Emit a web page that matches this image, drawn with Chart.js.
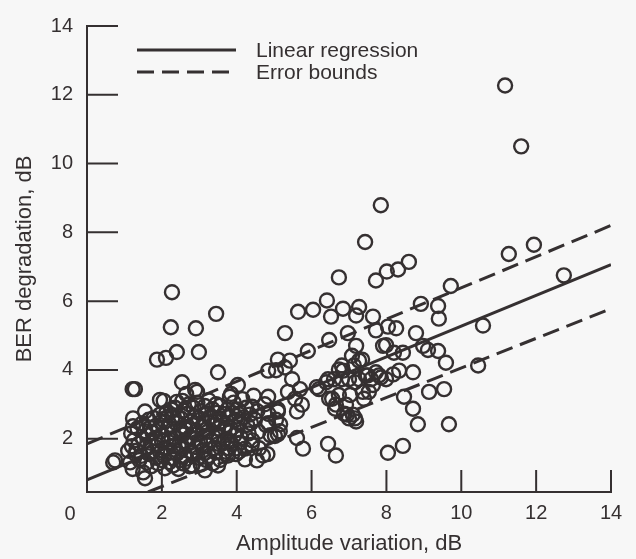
<!DOCTYPE html>
<html>
<head>
<meta charset="utf-8">
<title>BER degradation vs amplitude variation</title>
<script src="https://cdn.jsdelivr.net/npm/chart.js@4.4.1/dist/chart.umd.min.js"></script>
<style>
  html, body { margin: 0; padding: 0; background: #f7f7f7; }
  #wrap { position: relative; width: 636px; height: 559px; }
</style>
</head>
<body>
<div id="wrap"><canvas id="chart"></canvas></div>
<script>
// ── Data ──────────────────────────────────────
const xTicks = [0, 2, 4, 6, 8, 10, 12, 14];
const yTicks = [2, 4, 6, 8, 10, 12, 14];
const legendLabels = ['Linear regression', 'Error bounds'];

const regressionLine = [[0, 0.8], [14, 7.06]];
const upperBound     = [[0, 1.85], [14, 8.2]];
const lowerBound     = [[1.63, 0.45], [14, 5.78]];

// sparse points, upper part
const upperPoints = [
  [11.17, 12.27], [11.6, 10.5], [7.85, 8.79], [7.43, 7.72], [11.27, 7.37], [11.94, 7.64],
  [12.74, 6.75], [9.72, 6.44], [6.73, 6.69], [7.72, 6.6], [8.01, 6.86], [8.31, 6.92],
  [8.6, 7.14], [6.41, 6.02], [5.64, 5.69], [6.04, 5.75]
];

// points right of x = 6
const rightPoints = [
  [6.52, 5.55], [6.84, 5.78], [7.27, 5.83], [7.19, 5.58], [7.64, 5.55], [6.97, 5.07],
  [6.47, 4.87], [7.72, 5.15], [8.04, 5.26], [8.26, 5.21], [7.99, 4.72], [7.19, 4.7],
  [8.79, 5.07], [8.92, 5.92], [9.38, 5.86], [9.4, 5.49], [10.58, 5.29], [8.98, 4.7],
  [9.11, 4.58], [9.38, 4.55], [9.59, 4.21], [10.45, 4.13], [8.71, 3.93], [8.34, 3.98],
  [8.44, 4.5], [8.2, 4.5], [7.91, 4.7], [7.8, 3.84], [7.99, 3.73], [7.59, 3.73],
  [7.72, 3.93], [7.45, 3.84], [7.27, 4.27], [7.13, 4.13], [6.84, 3.98], [6.73, 4.01],
  [7.0, 3.73], [7.27, 3.73], [6.6, 3.73], [6.39, 3.64], [6.2, 3.44], [6.47, 3.16],
  [6.73, 3.27], [6.92, 2.99], [7.1, 2.7], [7.0, 2.59], [7.19, 2.5], [6.87, 2.73],
  [6.65, 2.99], [7.53, 3.36], [7.4, 3.16], [7.64, 3.56], [7.85, 3.78], [8.18, 3.87],
  [8.47, 3.22], [8.71, 2.87], [8.84, 2.42], [9.14, 3.36], [9.54, 3.44], [9.67, 2.42],
  [6.44, 1.85], [6.65, 1.51], [8.04, 1.59], [8.44, 1.79]
];

// points between x = 5 and x = 7
const middlePoints = [
  [5.29, 5.07], [5.9, 4.55], [5.1, 4.3], [5.42, 4.27], [5.29, 4.07], [5.48, 3.73],
  [6.14, 3.5], [6.44, 3.73], [6.81, 4.13], [7.08, 4.41], [7.35, 4.3], [7.16, 3.64],
  [6.81, 3.73], [7.5, 3.84], [5.37, 3.36], [5.69, 3.44], [5.56, 3.16], [5.74, 2.99],
  [5.61, 2.79], [6.55, 3.16], [6.63, 2.87], [6.95, 2.7], [7.03, 3.27], [7.37, 3.36],
  [7.16, 2.59], [5.1, 2.79], [5.16, 2.42], [5.1, 2.13], [5.61, 2.02], [5.77, 1.71]
];

// points left of x = 5, outside the dense cluster
const leftPoints = [
  [2.27, 6.26], [2.24, 5.24], [2.91, 5.21], [3.45, 5.63], [2.4, 4.52], [2.11, 4.35],
  [1.87, 4.3], [2.99, 4.52], [3.5, 3.93], [1.22, 3.44], [1.28, 3.44], [2.54, 3.64],
  [1.95, 3.13], [2.94, 3.36], [4.03, 3.56], [4.84, 3.98], [5.05, 3.99], [4.84, 3.22],
  [0.7, 1.31], [2.4, 3.07], [2.89, 3.42], [3.82, 3.22], [4.03, 2.85], [4.41, 2.93],
  [5.1, 2.85], [4.84, 2.45], [5.02, 2.08], [4.7, 1.51], [4.54, 1.37], [4.22, 1.71],
  [3.95, 1.71], [3.77, 1.51], [3.15, 1.08], [2.81, 1.22], [3.5, 1.22], [1.23, 2.59],
  [1.55, 2.79], [1.23, 2.36], [0.75, 1.37], [1.1, 1.65], [1.15, 1.31], [1.5, 1.02],
  [1.55, 0.85], [2.08, 1.14], [1.9, 1.28], [2.3, 1.22]
];

// dense cluster, x 1 to 5
const clusterPoints = [
  [1.18, 2.15], [1.25, 1.95], [1.2, 1.78], [1.3, 1.55], [1.22, 1.12],
  [1.48, 2.45], [1.55, 2.22], [1.5, 2.0], [1.58, 1.76], [1.45, 1.5], [1.6, 1.3],
  [1.78, 2.6], [1.85, 2.38], [1.75, 2.18], [1.82, 2.02], [1.88, 1.82], [1.76, 1.62], [1.84, 1.45],
  [2.05, 3.1], [2.12, 2.75], [2.08, 2.5], [2.15, 2.3], [2.02, 2.1], [2.18, 1.9], [2.1, 1.7], [2.05, 1.5], [2.2, 1.32],
  [2.35, 2.9], [2.42, 2.65], [2.38, 2.45], [2.48, 2.22], [2.36, 2.02], [2.45, 1.8], [2.4, 1.56], [2.5, 1.38], [2.44, 1.12],
  [2.65, 3.3], [2.72, 3.0], [2.68, 2.72], [2.78, 2.5], [2.64, 2.27], [2.75, 2.05], [2.7, 1.85], [2.8, 1.62], [2.66, 1.42], [2.74, 1.2],
  [2.95, 3.05], [3.05, 2.8], [2.98, 2.6], [3.08, 2.36], [2.92, 2.12], [3.02, 1.9], [3.1, 1.66], [2.96, 1.45], [3.04, 1.25],
  [3.25, 3.12], [3.35, 2.86], [3.28, 2.62], [3.38, 2.4], [3.22, 2.2], [3.32, 1.96], [3.4, 1.72], [3.26, 1.5], [3.36, 1.28],
  [3.55, 2.96], [3.65, 2.72], [3.58, 2.5], [3.68, 2.3], [3.52, 2.06], [3.62, 1.86], [3.7, 1.62], [3.56, 1.38],
  [3.85, 3.3], [3.92, 3.05], [3.88, 2.75], [3.96, 2.55], [3.84, 2.3], [3.94, 2.1], [3.86, 1.85], [3.98, 1.55],
  [4.15, 3.15], [4.25, 2.9], [4.18, 2.62], [4.28, 2.4], [4.12, 2.02], [4.22, 1.4],
  [4.45, 3.25], [4.55, 2.8], [4.48, 2.56], [4.58, 2.2], [4.42, 1.95], [4.6, 1.72],
  [4.75, 3.0], [4.85, 2.72], [4.78, 2.4], [4.9, 2.1], [4.82, 1.55],
  [5.05, 2.55], [5.15, 2.22]
];

// second, staggered layer of the dense cluster
const clusterCore = [
  [1.35, 2.3], [1.38, 1.85], [1.32, 1.65], [1.4, 1.38],
  [1.65, 2.55], [1.68, 2.32], [1.62, 2.1], [1.7, 1.88], [1.66, 1.55], [1.72, 1.2],
  [1.95, 2.7], [1.98, 2.48], [1.92, 2.28], [2.0, 1.95], [1.96, 1.6], [1.99, 1.38],
  [2.25, 2.85], [2.28, 2.6], [2.22, 2.4], [2.3, 2.18], [2.26, 2.0], [2.32, 1.78], [2.24, 1.6], [2.3, 1.42],
  [2.55, 3.1], [2.58, 2.82], [2.52, 2.58], [2.6, 2.35], [2.56, 2.12], [2.62, 1.92], [2.54, 1.7], [2.6, 1.5], [2.57, 1.28],
  [2.85, 2.9], [2.88, 2.65], [2.82, 2.4], [2.9, 2.2], [2.86, 1.98], [2.92, 1.75], [2.84, 1.52],
  [3.15, 2.95], [3.18, 2.7], [3.12, 2.48], [3.2, 2.28], [3.16, 2.05], [3.22, 1.82], [3.14, 1.58], [3.18, 1.38],
  [3.45, 3.0], [3.48, 2.75], [3.42, 2.52], [3.5, 2.3], [3.46, 2.08], [3.52, 1.85], [3.44, 1.6],
  [3.75, 2.85], [3.78, 2.62], [3.72, 2.4], [3.8, 2.18], [3.76, 1.95], [3.8, 1.72],
  [4.05, 2.72], [4.08, 2.48], [4.02, 2.25], [4.1, 1.88], [4.06, 1.62],
  [4.35, 2.7], [4.38, 2.45], [4.32, 2.15], [4.4, 1.82]
];

// ── Style ─────────────────────────────────────
const INK  = '#353031';
const FONT = 'Liberation Sans, Arial, Helvetica, sans-serif';
const DASH = [17, 8];

const toXY = pts => pts.map(p => ({ x: p[0], y: p[1] }));
const allPoints = [].concat(upperPoints, rightPoints, middlePoints, leftPoints, clusterPoints, clusterCore);

function lineSet(pts, dash) {
  return {
    data: toXY(pts),
    showLine: true,
    borderColor: INK,
    borderWidth: 3,
    borderDash: dash,
    pointRadius: 0,
    fill: false,
  };
}

// inward tick marks, in-plot legend, corner "0"
const decorations = {
  id: 'decorations',
  afterDraw(chart) {
    const { ctx, chartArea: a, scales: { x, y } } = chart;
    ctx.save();
    ctx.strokeStyle = INK;
    ctx.lineWidth = 2;
    ctx.beginPath();
    yTicks.forEach(v => {
      const py = y.getPixelForValue(v);
      ctx.moveTo(a.left, py);
      ctx.lineTo(a.left + 31, py);
    });
    xTicks.slice(1).forEach(v => {
      const px = x.getPixelForValue(v);
      ctx.moveTo(px, a.bottom);
      ctx.lineTo(px, a.bottom - 22);
    });
    ctx.stroke();

    // legend
    const lx0 = a.left + 50, lx1 = a.left + 149;
    const rows = [a.top + 24, a.top + 46];
    ctx.lineWidth = 3;
    rows.forEach((ry, i) => {
      ctx.setLineDash(i === 0 ? [] : DASH);
      ctx.beginPath();
      ctx.moveTo(lx0, ry);
      ctx.lineTo(lx1, ry);
      ctx.stroke();
    });
    ctx.setLineDash([]);
    ctx.fillStyle = INK;
    ctx.font = '21px ' + FONT;
    ctx.textBaseline = 'middle';
    ctx.textAlign = 'left';
    rows.forEach((ry, i) => ctx.fillText(legendLabels[i], a.left + 169, ry + 1));

    // shared origin label
    ctx.font = '20px ' + FONT;
    ctx.textAlign = 'center';
    ctx.fillText('0', a.left - 17, a.bottom + 22);
    ctx.restore();
  }
};

new Chart(document.getElementById('chart'), {
  type: 'scatter',
  data: {
    datasets: [
      lineSet(regressionLine, []),
      lineSet(upperBound, DASH),
      lineSet(lowerBound, DASH),
      {
        data: toXY(allPoints),
        pointStyle: 'circle',
        pointRadius: 7,
        pointBorderWidth: 2.4,
        pointBorderColor: INK,
        pointBackgroundColor: 'rgba(0,0,0,0)',
        showLine: false,
      }
    ]
  },
  options: {
    responsive: true,
    maintainAspectRatio: false,
    animation: false,
    layout: { padding: { top: 16, right: 25, left: 0, bottom: 0 } },
    plugins: { legend: { display: false }, tooltip: { enabled: false } },
    scales: {
      x: {
        type: 'linear', min: 0, max: 14,
        afterBuildTicks: s => { s.ticks = xTicks.map(v => ({ value: v })); },
        afterFit: s => { s.height = 67; },
        grid: { display: true, drawOnChartArea: false, drawTicks: false },
        border: { display: true, color: INK, width: 2 },
        ticks: {
          padding: 9, color: INK, font: { family: FONT, size: 20 },
          callback: v => (v === 0 ? '' : v)
        },
        title: {
          display: true, text: 'Amplitude variation, dB', color: INK,
          font: { family: FONT, size: 22 }, padding: { top: 0, bottom: 2 }
        }
      },
      y: {
        type: 'linear', min: 0.45, max: 14,
        afterBuildTicks: s => { s.ticks = yTicks.map(v => ({ value: v })); },
        afterFit: s => { s.width = 87; },
        grid: { display: true, drawOnChartArea: false, drawTicks: false },
        border: { display: true, color: INK, width: 2 },
        ticks: { padding: 14, color: INK, font: { family: FONT, size: 20 } },
        title: {
          display: true, text: 'BER degradation, dB', color: INK,
          font: { family: FONT, size: 22 }, padding: { top: 12, bottom: 0 }
        }
      }
    }
  },
  plugins: [decorations]
});
</script>
</body>
</html>
